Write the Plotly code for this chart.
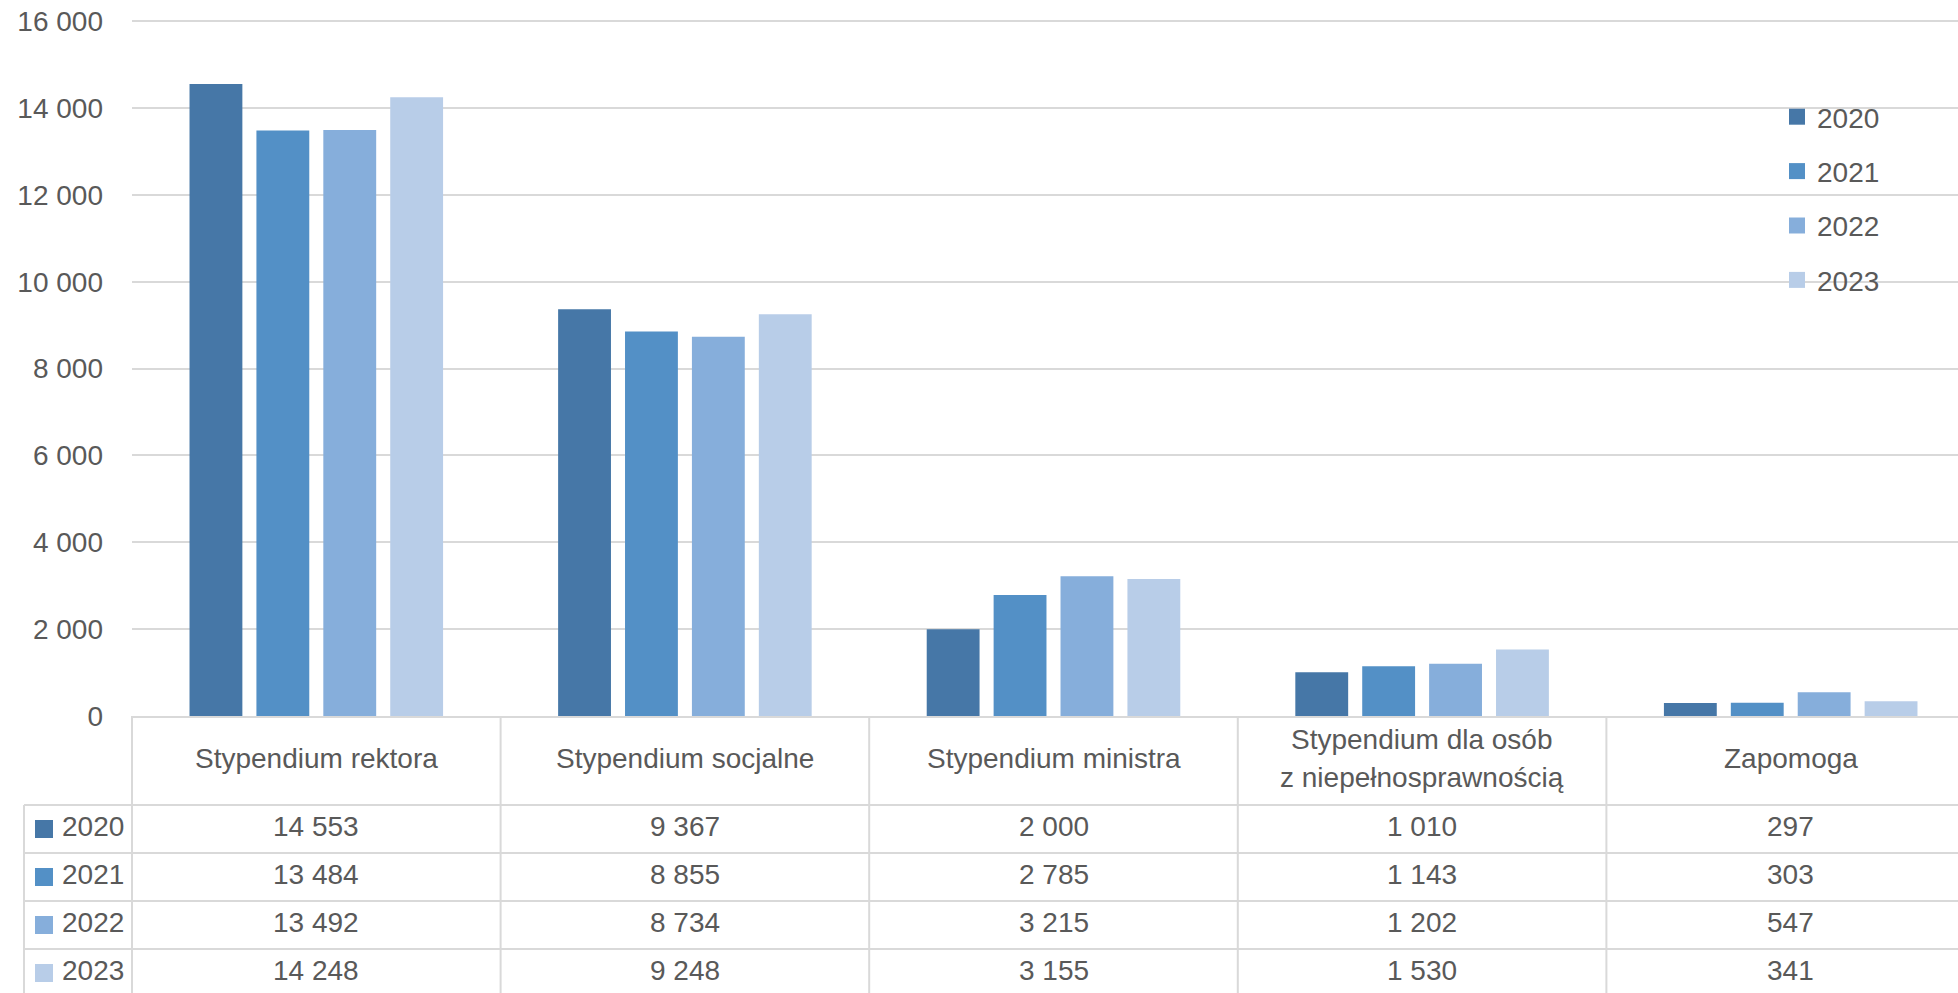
import plotly.graph_objects as go

# ---- data ----
categories = ["Stypendium rektora", "Stypendium socjalne", "Stypendium ministra",
              "Stypendium dla osób<br>z niepełnosprawnością", "Zapomoga"]
years = ["2020", "2021", "2022", "2023"]
v2020 = [14553, 9367, 2000, 1010, 297]
v2021 = [13484, 8855, 2785, 1143, 303]
v2022 = [13492, 8734, 3215, 1202, 547]
v2023 = [14248, 9248, 3155, 1530, 341]
series = [v2020, v2021, v2022, v2023]
colors = ["#4677A7", "#5390C6", "#86AEDB", "#B8CDE8"]
y_max = 16000

FONT = "Liberation Sans"
TXT = "#595959"
GRID = "#D9D9D9"
FS = 28

W, H = 1958, 993
ML, MT, MB = 132, 20, 277
plot_w = W - ML
plot_h = H - MT - MB
cat_w = 368.6
r0 = -0.5
r1 = r0 + plot_w / cat_w
y_top = y_max * 1.0016


def px(X):
    return (X - ML) / plot_w


def py(Y):
    return (H - MB - Y) / plot_h


def cx(c):
    return (c - r0) / (r1 - r0)


fig = go.Figure()
for yr, vals, col in zip(years, series, colors):
    fig.add_trace(go.Bar(x=categories, y=vals, name=yr, marker=dict(color=col, line=dict(width=0)),
                         showlegend=False))
for yr, col in zip(years, colors):
    fig.add_trace(go.Scatter(x=[None], y=[None], mode="markers", name=yr, legendgroup=yr,
                             marker=dict(symbol="square", size=16, color=col)))

shapes = []
annotations = []
line = dict(color=GRID, width=2)

# table geometry
header_top = H - MB
row_tops = [805, 853, 901, 949]
row_h = 48
bottom = H + 10
tshift = -2.5  # vertical text nudge

# horizontal lines
for Y in row_tops:
    shapes.append(dict(type="line", xref="paper", yref="paper", x0=px(24), x1=1.0,
                       y0=py(Y), y1=py(Y), line=line))
# vertical lines
shapes.append(dict(type="line", xref="paper", yref="paper", x0=px(24), x1=px(24),
                   y0=py(row_tops[0]), y1=py(bottom), line=line))
for i in range(len(categories)):
    xb = cx(i - 0.5)
    shapes.append(dict(type="line", xref="paper", yref="paper", x0=xb, x1=xb,
                       y0=py(header_top), y1=py(bottom), line=line))

# header labels
hc = (header_top + row_tops[0]) / 2 + tshift
line_gap = 38
for c in categories:
    parts = c.split("<br>")
    n = len(parts)
    for k, part in enumerate(parts):
        yy = hc + (k - (n - 1) / 2) * line_gap
        annotations.append(dict(x=c, xref="x", y=py(yy), yref="paper",
                                text=part, showarrow=False, xanchor="center", yanchor="middle",
                                font=dict(family=FONT, size=FS, color=TXT)))

# rows
for r, (yr, vals, col) in enumerate(zip(years, series, colors)):
    yc = row_tops[r] + row_h / 2
    shapes.append(dict(type="rect", xref="paper", yref="paper", x0=px(35), x1=px(53),
                       y0=py(yc - 9), y1=py(yc + 9), fillcolor=col, line=dict(width=0)))
    annotations.append(dict(x=px(60), xref="paper", y=py(yc + tshift), yref="paper", text=yr,
                            showarrow=False, xanchor="left", yanchor="middle",
                            font=dict(family=FONT, size=FS, color=TXT)))
    for c, v in zip(categories, vals):
        annotations.append(dict(x=c, xref="x", y=py(yc + tshift), yref="paper",
                                text=f"{v:,}".replace(",", " "), showarrow=False,
                                xanchor="center", yanchor="middle",
                                font=dict(family=FONT, size=FS, color=TXT)))

fig.update_layout(
    width=W, height=H, autosize=False,
    margin=dict(l=ML, r=0, t=MT, b=MB, pad=0),
    paper_bgcolor="white", plot_bgcolor="white",
    barmode="group", bargap=0.274, bargroupgap=0.21,
    separators=", ",
    font=dict(family=FONT, size=FS, color=TXT),
    xaxis=dict(range=[r0, r1], showticklabels=False, showgrid=False, zeroline=False,
               showline=True, linecolor=GRID, linewidth=2, ticks=""),
    yaxis=dict(range=[0, y_top], tickvals=list(range(0, y_max + 1, 2000)), tickformat=",",
               showgrid=True, gridcolor=GRID,
               gridwidth=1.5, zeroline=False, showline=False, ticks="", ticklabelstandoff=28,
               tickfont=dict(family=FONT, size=FS, color=TXT)),
    legend=dict(x=px(1777), y=py(92), xanchor="left", yanchor="top", tracegroupgap=15,
                bgcolor="rgba(0,0,0,0)", font=dict(family=FONT, size=FS, color=TXT),
                itemsizing="trace"),
    shapes=shapes,
    annotations=annotations,
)

fig.write_html("out.html")
